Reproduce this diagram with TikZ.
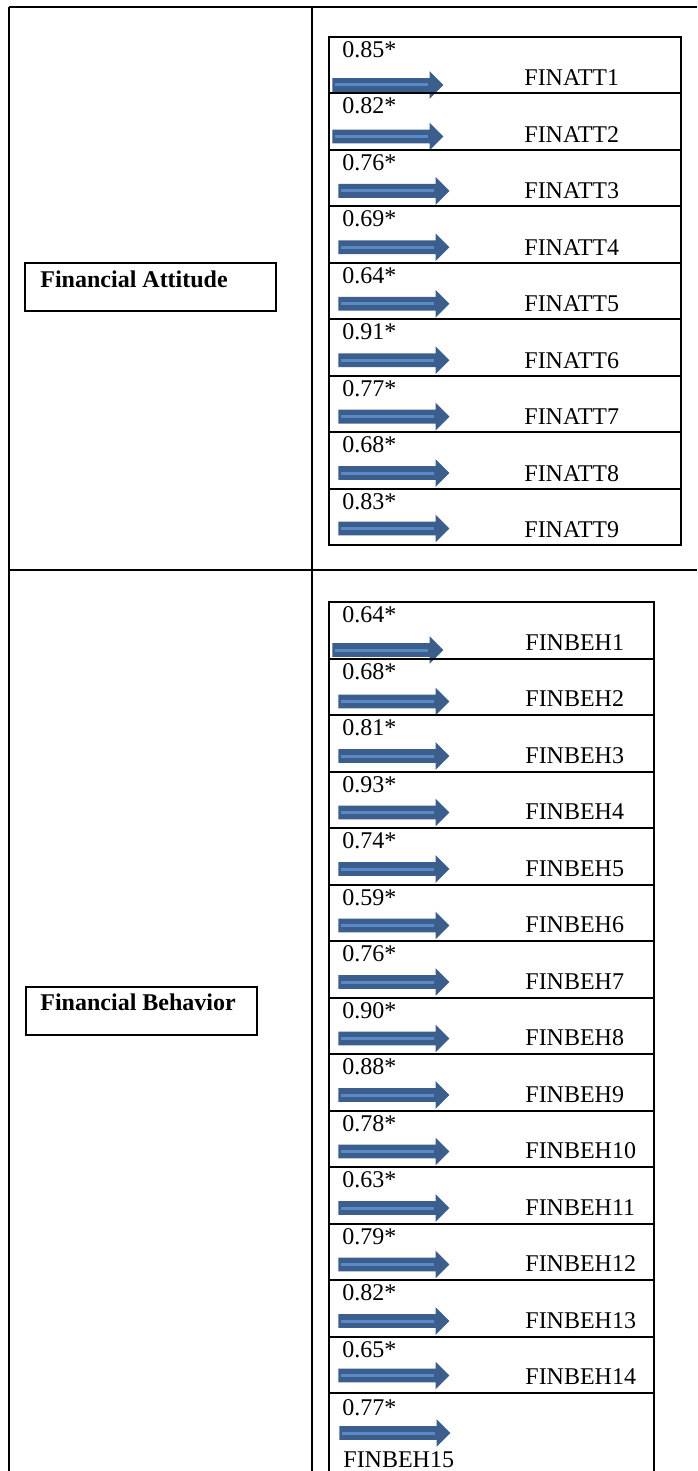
\documentclass[tikz,border=0pt]{standalone}
\usepackage{fontspec}
\setmainfont{Liberation Serif}
\usetikzlibrary{positioning,shapes.arrows}
\definecolor{arrowblue}{HTML}{3B5E8C}
\definecolor{arrowlight}{HTML}{5A8AC6}

\begin{document}
\begin{tikzpicture}[x=0.5pt,y=-0.5pt,
  rule/.style={line width=1.2pt,draw=black},
  itembox/.style={draw=black,line width=1pt,minimum width=176pt,minimum height=28.22pt,inner sep=0pt,anchor=north west},
  labelbox/.style={draw=black,line width=1pt,minimum height=24pt,inner sep=0pt,anchor=north west},
  labeltext/.style={font=\fontsize{12}{14}\selectfont\bfseries,inner sep=0pt,anchor=base west},
  load/.style={font=\fontsize{12}{14}\selectfont,inner sep=0pt,anchor=base west},
  item/.style={font=\fontsize{12}{14}\selectfont,inner sep=0pt,anchor=base west},
  blockarrow/.style={single arrow,fill=arrowblue,draw=none,minimum height=55.5pt,minimum width=0pt,
    text height=3.25pt,text depth=3.25pt,text width=0pt,
    single arrow head extend=3.5pt,inner sep=0pt,anchor=tail,
    path picture={\draw[arrowlight,line width=1.5pt] ([xshift=1.5pt]path picture bounding box.west) -- ([xshift=-7.5pt]path picture bounding box.east);}}
]
\clip (0,0) rectangle (697,1471);

% table frame
\draw[rule] (9,7) -- (697,7);
\draw[rule] (9,7) -- (9,1471);
\draw[rule] (312,7) -- (312,1471);
\draw[rule] (9,570) -- (697,570);

% financial attitude
\node[labelbox,minimum width=125.5pt] (attbox) at (24,262) {};
\node[labeltext] (attlabel) at ([xshift=8pt,yshift=-12.5pt]attbox.north west) {Financial Attitude};

\foreach \val/\tail/\mid [count=\i] in {0.85/2/24.5,0.82/2/22,0.76/5/21,0.69/5/21,0.64/5/21,0.91/5/21,0.77/5/21,0.68/5/21,0.83/5/20.5}{
  \node[itembox] (att\i) at (328,{36+(\i-1)*56.44}) {};
  \node[load] (attval\i) at ([xshift=7pt,yshift=-10.75pt]att\i.north west) {\val*};
  \node[blockarrow] (attarr\i) at ([xshift=\tail pt,yshift=-\mid pt]att\i.north west) {};
  \node[item] (attname\i) at ([xshift=98pt,yshift=-25pt]att\i.north west) {FINATT\i};
}

% financial behavior
\node[labelbox,minimum width=115.5pt] (behbox) at (25,986) {};
\node[labeltext] (behlabel) at ([xshift=7.5pt,yshift=-12pt]behbox.north west) {Financial Behavior};

\foreach \val/\tail/\mid [count=\i] in {0.64/2/24.5,0.68/5/22,0.81/5/21,0.93/5/21,0.74/5/21,0.59/5/21,0.76/5/21,0.90/5/21,0.88/5/21,0.78/5/21,0.63/5/21,0.79/5/21,0.82/5/21,0.65/5/20}{
  \node[itembox,minimum width=162.5pt,minimum height=28.25pt] (beh\i) at (328,{601+(\i-1)*56.5}) {};
  \node[load] (behval\i) at ([xshift=7pt,yshift=-10.75pt]beh\i.north west) {\val*};
  \node[blockarrow] (beharr\i) at ([xshift=\tail pt,yshift=-\mid pt]beh\i.north west) {};
  \node[item] (behname\i) at ([xshift=98.5pt,yshift=-24.5pt]beh\i.north west) {FINBEH\i};
}
\node[itembox,minimum width=162.5pt,minimum height=60pt] (beh15) at (328,1392) {};
\node[load] (behval15) at ([xshift=7pt,yshift=-11.5pt]beh15.north west) {0.77*};
\node[blockarrow] (beharr15) at ([xshift=5.5pt,yshift=-20.5pt]beh15.north west) {};
\node[item] (behname15) at ([xshift=7.5pt,yshift=-37.5pt]beh15.north west) {FINBEH15};
\end{tikzpicture}
\end{document}
